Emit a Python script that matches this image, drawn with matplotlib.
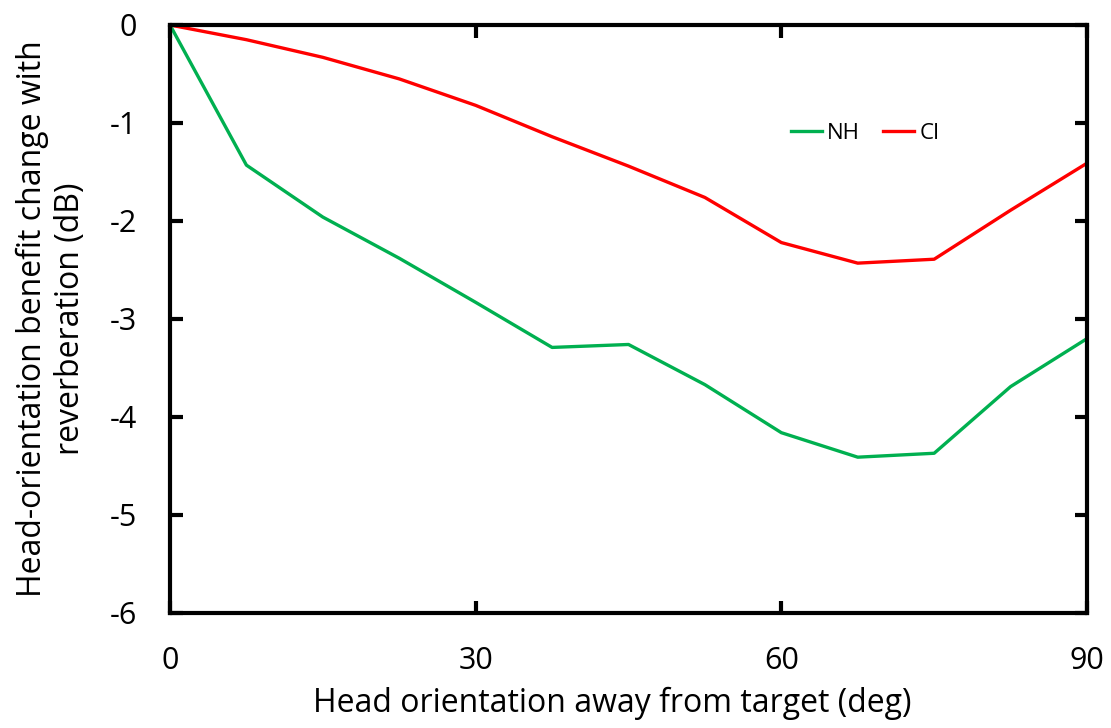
import matplotlib
matplotlib.use("Agg")
import matplotlib.pyplot as plt

angles = [0, 7.5, 15, 22.5, 30, 37.5, 45, 52.5, 60, 67.5, 75, 82.5, 90]
nh = [0, -1.43, -1.96, -2.38, -2.83, -3.29, -3.26, -3.67, -4.16, -4.41, -4.37, -3.69, -3.20]
ci = [0, -0.15, -0.33, -0.55, -0.82, -1.14, -1.44, -1.76, -2.22, -2.43, -2.39, -1.89, -1.41]
xticks = [0, 30, 60, 90]
yticks = [0, -1, -2, -3, -4, -5, -6]

plt.rcParams['font.family'] = ['Open Sans', 'DejaVu Sans']
plt.rcParams['axes.unicode_minus'] = False

fig = plt.figure(figsize=(11.11, 7.28), dpi=100)
ax = fig.add_axes([170/1111, 1-613/728, (1087-170)/1111, (613-25)/728])
ax.plot(angles, nh, color='#00b050', lw=2.4, label='NH')
ax.plot(angles, ci, color='#ff0000', lw=2.4, label='CI')
ax.set_xlim(0, 90)
ax.set_ylim(-6, 0)
ax.set_xticks(xticks)
ax.set_yticks(yticks)
ax.set_yticklabels([str(v) for v in yticks])
for s in ax.spines.values():
    s.set_linewidth(3)
    s.set_color('black')
ax.tick_params(direction='in', length=9, width=3, top=True, right=True,
               labelsize=22)
ax.tick_params(axis='x', pad=24)
ax.tick_params(axis='y', pad=24)
ax.set_xlabel('Head orientation away from target (deg)', fontsize=23, labelpad=8)
ax.xaxis.set_label_coords(0.482, -0.125)
ax.set_ylabel('Head-orientation benefit change with\nreverberation (dB)', fontsize=23,
              labelpad=16)
leg = ax.legend(loc='upper left', bbox_to_anchor=(0.655, 0.868), ncol=2, frameon=False,
                fontsize=16, handlelength=1.4, columnspacing=1.0, handletextpad=0.25)
fig.savefig('out.png', dpi=100)
